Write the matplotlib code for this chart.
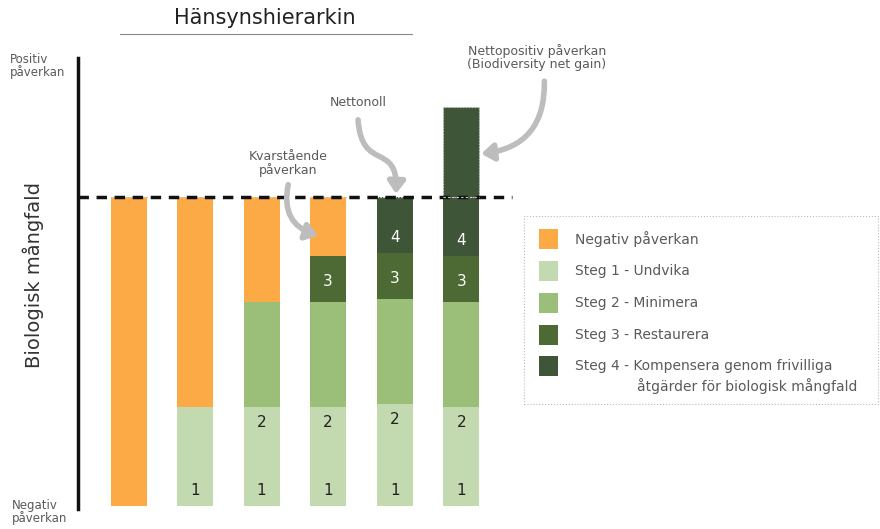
import matplotlib
matplotlib.use("Agg")
import matplotlib.pyplot as plt
from matplotlib.patches import Rectangle, FancyArrowPatch
from matplotlib.path import Path
import numpy as np

# values in % of the "no net loss" level (dashed line = 100)
bars = np.arange(6)
negative = [100, 68, 34, 19, 0, 0]
steg1 = [0, 32, 32, 32, 33, 32]
steg2 = [0, 0, 34, 34, 34, 34]
steg3 = [0, 0, 0, 15, 15, 15]
steg4 = [0, 0, 0, 0, 18, 19]
net_gain = [0, 0, 0, 0, 0, 29]

legend_labels = ["Negativ påverkan", "Steg 1 - Undvika", "Steg 2 - Minimera",
                 "Steg 3 - Restaurera", "Steg 4 - Kompensera genom frivilliga"]
legend_extra = "åtgärder för biologisk mångfald"

c_neg = "#FBAA45"
c1 = "#C3D9AF"
c2 = "#9BBE79"
c3 = "#4E6A34"
c4 = "#3E5538"
colors = [c_neg, c1, c2, c3, c4]
grey_txt = "#5a5a5a"
arrow_grey = "#BDBDBD"

plt.rcParams['font.family'] = ['DejaVu Sans']

fig = plt.figure(figsize=(8.8, 5.29), dpi=100)
ax = fig.add_axes([78 / 880, 1 - 509 / 529, 483 / 880, 451 / 529])
ax.set_xlim(-0.76, 6.5)
ax.set_ylim(-1, 145)

w = 0.54
bottom = np.zeros(6)
for vals, col in [(steg1, c1), (steg2, c2), (steg3, c3), (steg4, c4), (negative, c_neg)]:
    ax.bar(bars, vals, w, bottom=bottom, color=col, linewidth=0)
    bottom += np.array(vals)
ax.bar(bars, net_gain, w, bottom=bottom, color=c4, edgecolor="#cfcfcf",
       linewidth=0.8, linestyle=":")

# step numbers
for i in bars:
    b = 0
    if steg1[i]:
        ax.text(i, b + 5, "1", ha="center", va="center", fontsize=11, color="#222222")
    b += steg1[i]
    if steg2[i]:
        ax.text(i, b - 5, "2", ha="center", va="center", fontsize=11, color="#222222")
    b += steg2[i]
    if steg3[i]:
        ax.text(i, b + steg3[i] / 2 - 1, "3", ha="center", va="center",
                fontsize=11, color="white")
    b += steg3[i]
    if steg4[i]:
        ax.text(i, b + 5, "4", ha="center", va="center", fontsize=11, color="white")

# no net loss line
ax.plot([-0.76, 5.77], [100, 100], color="#111111", lw=2.5, dashes=(3, 2.2),
        clip_on=False, zorder=1)
ax.plot([5 - w / 2, 5 + w / 2], [100, 100], color="#cfcfcf", lw=0.8,
        linestyle=(0, (2, 2)), zorder=3)

for s in ["top", "right", "bottom"]:
    ax.spines[s].set_visible(False)
ax.spines["left"].set_linewidth(2.5)
ax.spines["left"].set_color("#111111")
ax.set_xticks([])
ax.set_yticks([])
ax.patch.set_alpha(0)

# annotations
astyle = "-|>,head_length=0.7,head_width=0.5"
aprops = dict(arrowstyle=astyle, color=arrow_grey, lw=4, shrinkA=0, shrinkB=0)
ax.text(2.40, 111, "Kvarstående\npåverkan", ha="center", va="center",
        fontsize=9, color=grey_txt, linespacing=1.0)
ax.annotate("", xy=(2.85, 87.5), xytext=(2.40, 104),
            arrowprops=dict(connectionstyle="arc3,rad=0.45", **aprops))
ax.text(3.45, 130.5, "Nettonoll", ha="center", va="center", fontsize=9, color=grey_txt)
s_path = Path([(3.45, 125), (3.50, 108), (4.05, 118), (4.02, 101)],
              [Path.MOVETO, Path.CURVE4, Path.CURVE4, Path.CURVE4])
ax.add_patch(FancyArrowPatch(path=s_path, arrowstyle=astyle, mutation_scale=10,
                             color=arrow_grey, lw=4))
ax.text(6.14, 145, "Nettopositiv påverkan\n(Biodiversity net gain)", ha="center",
        va="center", fontsize=9, color=grey_txt, linespacing=1.0, clip_on=False)
ax.annotate("", xy=(5.30, 114), xytext=(6.25, 137.5), annotation_clip=False,
            arrowprops=dict(connectionstyle="arc3,rad=-0.45", **aprops))

# title
fig.text(265 / 880, 1 - 18 / 529, "Hänsynshierarkin", ha="center", va="center",
         fontsize=15, color="#222222")
fig.add_artist(plt.Line2D([120 / 880, 412 / 880], [1 - 34 / 529, 1 - 34 / 529],
                          color="#888888", lw=0.8))

# axis end labels
fig.text(10 / 880, 1 - 66 / 529, "Positiv\npåverkan", ha="left", va="center",
         fontsize=8.5, color=grey_txt, linespacing=1.0)
fig.text(12 / 880, 1 - 512 / 529, "Negativ\npåverkan", ha="left", va="center",
         fontsize=8.5, color=grey_txt, linespacing=1.0)
fig.text(33 / 880, 1 - 275 / 529, "Biologisk mångfald", rotation=90, ha="center",
         va="center", fontsize=14, color="#333333")

# legend box
fig.add_artist(Rectangle((524 / 880, 1 - 404 / 529), 354 / 880, 188 / 529,
                         transform=fig.transFigure, fill=False, edgecolor="#bbbbbb",
                         lw=0.8, linestyle=":"))
rows = [239, 271, 303, 335, 366]
for lab, col, ry in zip(legend_labels, colors, rows):
    fig.add_artist(Rectangle((539 / 880, 1 - (ry + 10) / 529), 19 / 880, 20 / 529,
                             transform=fig.transFigure, color=col, lw=0))
    fig.text(575 / 880, 1 - ry / 529, lab, ha="left", va="center", fontsize=10,
             color=grey_txt)
fig.text(637 / 880, 1 - 386 / 529, legend_extra, ha="left", va="center",
         fontsize=10, color=grey_txt)

fig.savefig("out.png", dpi=100)
